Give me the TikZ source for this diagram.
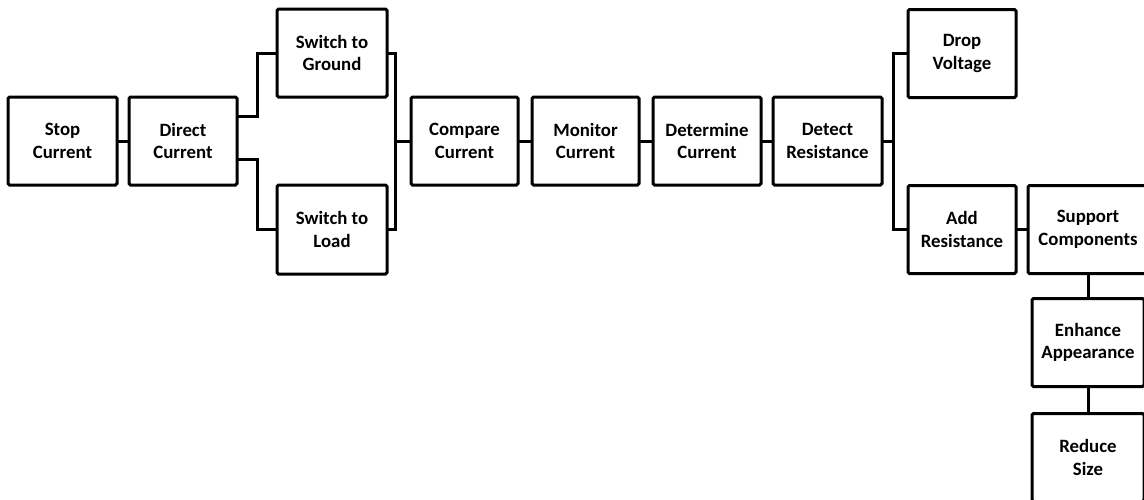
\documentclass[tikz,border=0pt]{standalone}
\usepackage{fontspec}
\setmainfont{Carlito}
\begin{document}
\begin{tikzpicture}[x=1pt,y=-1pt,
  box/.style={draw=black,line width=3pt,fill=white,minimum width=108pt,minimum height=88pt,
    rounded corners=1.5pt,align=center,inner sep=2pt,font=\fontsize{18.8}{22.5}\selectfont\bfseries},
  wire/.style={line width=3pt,line cap=rect}]
\useasboundingbox (0,0) rectangle (1144,499);
\node[box,minimum width=109pt] (stop) at (62.5,141) {Stop\\Current};
\node[box] (direct) at (183,141) {Direct\\Current};
\node[box,minimum width=110pt] (ground) at (332,53) {Switch to\\Ground};
\node[box,minimum width=110pt,minimum height=89pt] (load) at (332,229.5) {Switch to\\Load};
\node[box,minimum width=107pt] (compare) at (464.5,141) {Compare\\Current};
\node[box,minimum width=107pt] (monitor) at (585.5,141) {Monitor\\Current};
\node[box] (determine) at (707,141) {Determine\\Current};
\node[box,minimum width=109pt] (detect) at (827.5,141) {Detect\\Resistance};
\node[box] (drop) at (962,53.5) {Drop\\Voltage};
\node[box] (add) at (962,229.5) {Add\\Resistance};
\node[box,minimum width=120pt] (support) at (1088,229.5) {Support\\Components};
\node[box,minimum width=112pt] (enhance) at (1088,342.5) {Enhance\\Appearance};
\node[box,minimum width=112pt] (reduce) at (1088,457.5) {Reduce\\Size};
\coordinate (m1) at (395,141);
\coordinate (m2) at (893,141);
\draw[wire] (stop.east) -- (direct.west);
\draw[wire] ([yshift=25pt]direct.east) -- ++(19,0) |- (ground.west);
\draw[wire] ([yshift=-18pt]direct.east) -- ++(19,0) |- (load.west);
\draw[wire] (ground.east) -| (m1) |- (load.east);
\draw[wire] (m1) -- (compare.west);
\draw[wire] (compare.east) -- (monitor.west);
\draw[wire] (monitor.east) -- (determine.west);
\draw[wire] (determine.east) -- (detect.west);
\draw[wire] (detect.east) -- (m2);
\draw[wire] (drop.west) -| (m2) |- (add.west);
\draw[wire] (add.east) -- (support.west);
\draw[wire] (support.south) -- (enhance.north);
\draw[wire] (enhance.south) -- (reduce.north);
\end{tikzpicture}
\end{document}
